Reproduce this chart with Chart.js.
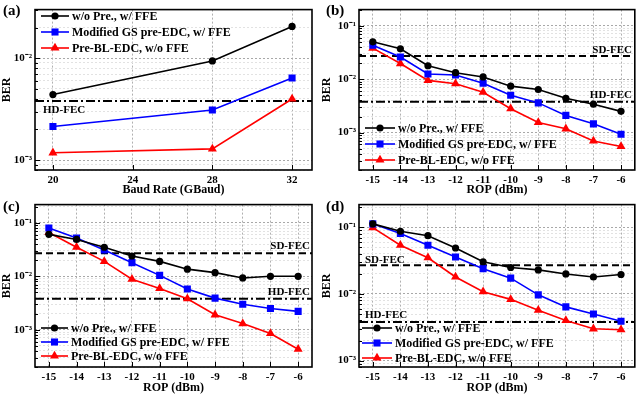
<!DOCTYPE html>
<html lang="en">
<head>
<meta charset="UTF-8">
<title>BER vs baud rate / ROP</title>
<script src="https://cdn.jsdelivr.net/npm/chart.js"></script>
<style>
  body { margin: 0; background: #fff; }
  #wrap { position: relative; width: 640px; height: 395px; }
  canvas { position: absolute; }
</style>
</head>
<body>
<div id="wrap">
  <canvas id="pa" width="320" height="197" style="left:0;top:0"></canvas>
  <canvas id="pb" width="320" height="197" style="left:320px;top:0"></canvas>
  <canvas id="pc" width="320" height="200" style="left:0;top:195px"></canvas>
  <canvas id="pd" width="320" height="200" style="left:320px;top:195px"></canvas>
</div>
<script>
  // ---- data ----
  const seriesNames = ["w/o Pre., w/ FFE", "Modified GS pre-EDC, w/ FFE", "Pre-BL-EDC, w/o FFE"];

  const baudRate = [20, 28, 32];
  const baudTicks = [20, 24, 28, 32];
  const a_noPre = [4.4e-3, 9.4e-3, 2.05e-2];
  const a_gs    = [2.14e-3, 3.1e-3, 6.4e-3];
  const a_bl    = [1.18e-3, 1.29e-3, 3.98e-3];

  const rop = [-15, -14, -13, -12, -11, -10, -9, -8, -7, -6];
  const b_noPre = [0.050, 0.037, 0.0178, 0.0132, 0.011, 0.0074, 0.0064, 0.0044, 0.0034, 0.0025];
  const b_gs    = [0.043, 0.026, 0.0125, 0.012, 0.0084, 0.0050, 0.0036, 0.0021, 0.00146, 0.00093];
  const b_bl    = [0.038, 0.0196, 0.0095, 0.0082, 0.0057, 0.0028, 0.00155, 0.00118, 0.00070, 0.00055];

  const c_noPre = [0.061, 0.049, 0.035, 0.024, 0.019, 0.0136, 0.0117, 0.0093, 0.0100, 0.0100];
  const c_gs    = [0.080, 0.052, 0.031, 0.018, 0.0104, 0.0058, 0.0039, 0.0030, 0.0025, 0.0022];
  const c_bl    = [0.066, 0.035, 0.019, 0.0088, 0.0059, 0.0038, 0.0019, 0.0013, 0.00085, 0.00043];

  const d_noPre = [0.113, 0.0875, 0.075, 0.049, 0.0305, 0.025, 0.023, 0.020, 0.018, 0.0196];
  const d_gs    = [0.113, 0.081, 0.054, 0.036, 0.024, 0.0173, 0.0097, 0.0064, 0.0050, 0.0039];
  const d_bl    = [0.099, 0.054, 0.035, 0.018, 0.0108, 0.0083, 0.0057, 0.0040, 0.0030, 0.0029];

  const HD_FEC = 3.8e-3;
  const SD_FEC = 2.7e-2;

  const FONT = "'Liberation Serif', 'Times New Roman', serif";
  const colors = ["#000000", "#0000ff", "#ff0000"];
  const markers = ["circle", "rect", "triangle"];
  const radii = [3.6, 5, 5.2];

  const SUP = { "-": "\u207B", "0": "\u2070", "1": "\u00B9", "2": "\u00B2", "3": "\u00B3", "4": "\u2074" };
  function isDecade(v) {
    const l = Math.log10(v);
    return Math.abs(l - Math.round(l)) < 1e-6;
  }
  function powLabel(v) {
    const e = Math.round(Math.log10(v));
    return "10" + String(e).split("").map(c => SUP[c]).join("");
  }
  function logTicks(min, max) {
    const out = [];
    for (let e = Math.floor(Math.log10(min)); e <= Math.ceil(Math.log10(max)); e++) {
      for (let m = 1; m < 10; m++) {
        const v = m * Math.pow(10, e);
        if (v >= min * 0.999 && v <= max * 1.001) out.push({ value: v, major: m === 1 });
      }
    }
    return out;
  }

  function marker(ctx, style, x, y, r, color) {
    ctx.fillStyle = color;
    ctx.beginPath();
    if (style === "circle") {
      ctx.arc(x, y, r, 0, Math.PI * 2);
    } else if (style === "rect") {
      const s = r * Math.SQRT1_2;
      ctx.rect(x - s, y - s, 2 * s, 2 * s);
    } else {
      let rad = 0;
      ctx.moveTo(x + Math.sin(rad) * r, y - Math.cos(rad) * r);
      rad += Math.PI * 2 / 3;
      ctx.lineTo(x + Math.sin(rad) * r, y - Math.cos(rad) * r);
      rad += Math.PI * 2 / 3;
      ctx.lineTo(x + Math.sin(rad) * r, y - Math.cos(rad) * r);
      ctx.closePath();
    }
    ctx.fill();
  }

  // frame, inward ticks, legend, threshold labels, panel letter
  const panelPlugin = {
    id: "panel",
    afterDraw(chart, args, opts) {
      const ctx = chart.ctx, a = chart.chartArea;
      const xs = chart.scales.x, ys = chart.scales.y;
      ctx.save();
      ctx.strokeStyle = "#000";
      ctx.lineWidth = 1;
      ys.ticks.forEach(t => {
        const y = Math.round(ys.getPixelForValue(t.value)) + 0.5;
        ctx.beginPath();
        ctx.moveTo(a.left, y);
        ctx.lineTo(a.left + (t.major ? 5 : 3), y);
        ctx.stroke();
      });
      xs.ticks.forEach(t => {
        const x = Math.round(xs.getPixelForValue(t.value)) + 0.5;
        ctx.beginPath();
        ctx.moveTo(x, a.bottom);
        ctx.lineTo(x, a.bottom - 5);
        ctx.stroke();
      });
      ctx.lineWidth = 1.6;
      ctx.strokeRect(a.left, a.top, a.right - a.left, a.bottom - a.top);

      // threshold labels
      ctx.fillStyle = "#000";
      ctx.font = "bold 11px " + FONT;
      ctx.textBaseline = "middle";
      opts.fec.forEach(f => {
        ctx.textAlign = f.align;
        ctx.fillText(f.text, f.x, ys.getPixelForValue(f.y) + f.dy);
      });

      // legend
      const lg = opts.legend;
      ctx.font = "bold 12px " + FONT;
      ctx.textAlign = "left";
      for (let i = 0; i < 3; i++) {
        const ds = chart.data.datasets[i];
        const y = lg.rows[i];
        ctx.strokeStyle = ds.borderColor;
        ctx.lineWidth = 1.6;
        ctx.beginPath();
        ctx.moveTo(lg.x0, y);
        ctx.lineTo(lg.x1, y);
        ctx.stroke();
        marker(ctx, markers[i], (lg.x0 + lg.x1) / 2, y, radii[i], colors[i]);
        ctx.fillStyle = "#000";
        ctx.fillText(ds.label, lg.tx, y + 1);
      }

      // panel letter
      ctx.font = "bold 15px " + FONT;
      ctx.textAlign = "left";
      ctx.textBaseline = "alphabetic";
      ctx.fillText(opts.letter, opts.lx, opts.ly);
      ctx.restore();
    }
  };

  function makePanel(id, p) {
    const datasets = p.series.map((vals, i) => ({
      label: seriesNames[i],
      data: p.xs.map((x, j) => ({ x: x, y: vals[j] })),
      borderColor: colors[i],
      backgroundColor: colors[i],
      borderWidth: 1.6,
      pointStyle: markers[i],
      pointRadius: radii[i],
      pointBorderWidth: 0,
      order: 0
    }));
    p.lines.forEach(l => datasets.push({
      label: l.name,
      data: [{ x: p.xmin, y: l.y }, { x: p.xmax, y: l.y }],
      borderColor: "#000",
      borderWidth: 2,
      borderDash: l.dash,
      pointRadius: 0,
      order: 5
    }));

    return new Chart(document.getElementById(id), {
      type: "line",
      data: { datasets: datasets },
      options: {
        responsive: false,
        animation: false,
        devicePixelRatio: 1,
        layout: { padding: { top: p.top, right: p.right, left: 0, bottom: 0 } },
        plugins: {
          legend: { display: false },
          tooltip: { enabled: false },
          panel: { letter: p.letter, lx: p.lx, ly: p.ly, legend: p.legend, fec: p.fec }
        },
        scales: {
          x: {
            type: "linear",
            min: p.xmin,
            max: p.xmax,
            afterBuildTicks: s => { s.ticks = p.xticks.map(v => ({ value: v })); },
            afterFit: s => { s.height = p.xh; },
            ticks: { autoSkip: false, maxRotation: 0, padding: 4, color: "#000", font: { family: FONT, size: 11, weight: "bold" } },
            grid: { drawTicks: false, color: "#b0b0b0", lineWidth: 1 },
            border: { display: false, dash: [2, 2] },
            title: { display: true, text: p.xtitle, color: "#000", padding: 0, font: { family: FONT, size: 12, weight: "bold" } }
          },
          y: {
            type: "logarithmic",
            min: p.ymin,
            max: p.ymax,
            afterBuildTicks: s => { s.ticks = logTicks(p.ymin, p.ymax); },
            afterFit: s => { s.width = p.yw; },
            ticks: {
              autoSkip: false, padding: 3, color: "#000",
              font: { family: FONT, size: 11, weight: "bold" },
              callback: v => isDecade(v) ? powLabel(v) : ""
            },
            grid: {
              drawTicks: false, lineWidth: 1,
              color: c => (c.tick && c.tick.major) ? "#a8a8a8" : "#e2e2e2"
            },
            border: { display: false, dash: [2, 2] },
            title: { display: true, text: "BER", color: "#000", padding: 0, font: { family: FONT, size: 12, weight: "bold" } }
          }
        }
      },
      plugins: [panelPlugin]
    });
  }

  const HD_DASH = [9, 3, 2, 3];
  const SD_DASH = [7, 4];

  makePanel("pa", {
    letter: "(a)", lx: 3, ly: 15,
    xs: baudRate, series: [a_noPre, a_gs, a_bl],
    xmin: 19.1, xmax: 33, xticks: baudTicks, xtitle: "Baud Rate (GBaud)",
    ymin: 8e-4, ymax: 3e-2,
    top: 5, right: 8, yw: 35, xh: 27,
    lines: [{ name: "HD-FEC", y: HD_FEC, dash: HD_DASH }],
    fec: [{ text: "HD-FEC", x: 43, y: HD_FEC, dy: 9, align: "left" }],
    legend: { x0: 41, x1: 69, tx: 72, rows: [16, 32, 48] }
  });

  makePanel("pb", {
    letter: "(b)", lx: 6, ly: 15,
    xs: rop, series: [b_noPre, b_gs, b_bl],
    xmin: -15.5, xmax: -5.5, xticks: rop, xtitle: "ROP (dBm)",
    ymin: 2e-4, ymax: 2e-1,
    top: 5, right: 3, yw: 39, xh: 27,
    lines: [{ name: "SD-FEC", y: SD_FEC, dash: SD_DASH }, { name: "HD-FEC", y: HD_FEC, dash: HD_DASH }],
    fec: [{ text: "SD-FEC", x: 312, y: SD_FEC, dy: -6, align: "right" },
          { text: "HD-FEC", x: 312, y: HD_FEC, dy: -6, align: "right" }],
    legend: { x0: 45, x1: 75, tx: 78, rows: [128, 144, 160] }
  });

  makePanel("pc", {
    letter: "(c)", lx: 3, ly: 16,
    xs: rop, series: [c_noPre, c_gs, c_bl],
    xmin: -15.5, xmax: -5.5, xticks: rop, xtitle: "ROP (dBm)",
    ymin: 2e-4, ymax: 2.2e-1,
    top: 5, right: 8, yw: 35, xh: 28,
    lines: [{ name: "SD-FEC", y: SD_FEC, dash: SD_DASH }, { name: "HD-FEC", y: HD_FEC, dash: HD_DASH }],
    fec: [{ text: "SD-FEC", x: 310, y: SD_FEC, dy: -7, align: "right" },
          { text: "HD-FEC", x: 310, y: HD_FEC, dy: -7, align: "right" }],
    legend: { x0: 41, x1: 68, tx: 71, rows: [133, 147, 161] }
  });

  makePanel("pd", {
    letter: "(d)", lx: 6, ly: 16,
    xs: rop, series: [d_noPre, d_gs, d_bl],
    xmin: -15.5, xmax: -5.5, xticks: rop, xtitle: "ROP (dBm)",
    ymin: 8e-4, ymax: 2.2e-1,
    top: 5, right: 3, yw: 39, xh: 28,
    lines: [{ name: "SD-FEC", y: SD_FEC, dash: SD_DASH }, { name: "HD-FEC", y: HD_FEC, dash: HD_DASH }],
    fec: [{ text: "SD-FEC", x: 45, y: SD_FEC, dy: -5, align: "left" },
          { text: "HD-FEC", x: 45, y: HD_FEC, dy: -7, align: "left" }],
    legend: { x0: 42, x1: 72, tx: 75, rows: [133, 148, 163] }
  });
</script>
</body>
</html>
